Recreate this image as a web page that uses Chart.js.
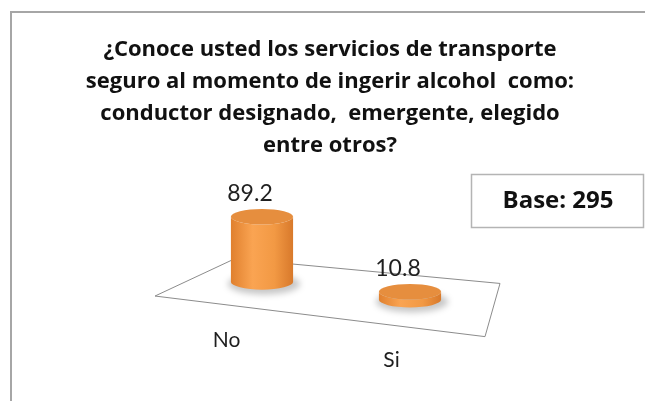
<!DOCTYPE html>
<html>
<head>
<meta charset="utf-8">
<script src="https://cdn.jsdelivr.net/npm/chart.js@4.4.1/dist/chart.umd.min.js"></script>
<style>
  html, body { margin: 0; padding: 0; background: #fff; }
  #chart { display: block; }
</style>
</head>
<body>
<canvas id="chart" width="645" height="401"></canvas>
<script>
// Survey answer: known safe-transport services (3D cylinder look)
const categories = ['No', 'Si'];
const values = [89.2, 10.8];
const titleLines = [
    '¿Conoce usted los servicios de transporte',
    'seguro al momento de ingerir alcohol  como:',
    'conductor designado,  emergente, elegido',
    'entre otros?'
];
const baseText = 'Base: 295';

const FONT = 'Lato, "Open Sans", sans-serif';
const BOLD_FONT = '"Open Sans", Lato, sans-serif';
const TILT = 0.12; // floor slope, px down per px right

function floorY(area, x) {
    return area.bottom + TILT * (x - area.left);
}

function drawCylinder(ctx, cx, topY, botY, rx, ry) {
    let grad = ctx.createLinearGradient(cx - rx, 0, cx + rx, 0);
    grad.addColorStop(0, '#e0802e');
    grad.addColorStop(0.35, '#faa452');
    grad.addColorStop(0.7, '#f29944');
    grad.addColorStop(1, '#d8792b');
    ctx.beginPath();
    ctx.moveTo(cx - rx, topY);
    ctx.lineTo(cx - rx, botY);
    ctx.ellipse(cx, botY, rx, ry, 0, Math.PI, 0, true);
    ctx.lineTo(cx + rx, topY);
    ctx.ellipse(cx, topY, rx, ry, 0, 0, Math.PI, false);
    ctx.closePath();
    ctx.fillStyle = grad;
    ctx.fill();

    ctx.beginPath();
    ctx.ellipse(cx, topY, rx, ry, 0, 0, Math.PI * 2);
    ctx.fillStyle = '#e68e3e';
    ctx.fill();
}

const cylinderPlugin = {
    id: 'cylinder3d',
    beforeDraw(chart) {
        const ctx = chart.ctx;
        ctx.save();
        ctx.fillStyle = '#fff';
        ctx.fillRect(0, 0, chart.width, chart.height);
        // outer frame (top and left edges only visible)
        ctx.strokeStyle = '#a6a6a6';
        ctx.lineWidth = 2;
        ctx.beginPath();
        ctx.moveTo(11, chart.height);
        ctx.lineTo(11, 12);
        ctx.lineTo(chart.width, 12);
        ctx.stroke();

        // base box
        ctx.strokeStyle = '#b4b4b4';
        ctx.lineWidth = 1.5;
        ctx.strokeRect(471.5, 174.5, 172, 53);
        ctx.fillStyle = '#111';
        ctx.font = 'bold 24px ' + BOLD_FONT;
        ctx.textAlign = 'center';
        ctx.textBaseline = 'middle';
        ctx.fillText(baseText, 558, 201);
        ctx.restore();
    },
    beforeDatasetsDraw(chart) {
        const ctx = chart.ctx;
        const a = chart.chartArea;
        const fl = { x: a.left - 33 }; fl.y = floorY(a, fl.x) + 27;
        const fr = { x: a.right + 1 }; fr.y = floorY(a, fr.x) + 28;
        const br = { x: a.right + 16 }; br.y = floorY(a, br.x) - 27;
        const bl = { x: a.left + 47 }; bl.y = floorY(a, bl.x) - 20;
        chart.$floor = { fl, fr };
        ctx.save();
        ctx.strokeStyle = '#8c8c8c';
        ctx.lineWidth = 1;
        ctx.beginPath();
        ctx.moveTo(fl.x, fl.y);
        ctx.lineTo(fr.x, fr.y);
        ctx.lineTo(br.x, br.y);
        ctx.lineTo(bl.x, bl.y);
        ctx.closePath();
        ctx.stroke();
        ctx.restore();
    },
    afterDatasetsDraw(chart) {
        const ctx = chart.ctx;
        const a = chart.chartArea;
        const meta = chart.getDatasetMeta(0);
        const labels = chart.data.labels;
        const data = chart.data.datasets[0].data;
        ctx.save();
        meta.data.forEach((bar, i) => {
            const shift = TILT * (bar.x - a.left);
            const rx = bar.width / 2;
            const ry = rx * 0.25;
            const topY = bar.y + shift;
            const botY = bar.base + shift;

            // soft shadow on the floor
            ctx.save();
            ctx.filter = 'blur(3px)';
            ctx.fillStyle = 'rgba(0,0,0,0.22)';
            ctx.beginPath();
            ctx.ellipse(bar.x + 2, botY + 2, rx + 5, ry + 3, 0, 0, Math.PI * 2);
            ctx.fill();
            ctx.restore();

            drawCylinder(ctx, bar.x, topY, botY, rx, ry);

            ctx.fillStyle = '#1f1f1f';
            ctx.font = '23px ' + FONT;
            ctx.textAlign = 'center';
            ctx.textBaseline = 'middle';
            ctx.fillText(data[i].toFixed(1), bar.x - 12, topY - ry - 15);
        });

        // category labels along the front edge of the floor
        const { fl, fr } = chart.$floor;
        labels.forEach((lab, i) => {
            const t = (i + 0.5) / labels.length;
            const x = fl.x + (fr.x - fl.x) * t;
            const y = fl.y + (fr.y - fl.y) * t;
            ctx.fillStyle = '#1f1f1f';
            ctx.font = '21px ' + FONT;
            ctx.textAlign = 'center';
            ctx.textBaseline = 'middle';
            ctx.fillText(lab, x - 11, y + 34);
        });
        ctx.restore();
    }
};

let ctx = document.getElementById('chart').getContext('2d');
let chart = new Chart(ctx, {
    type: 'bar',
    data: {
        labels: categories,
        datasets: [{
            data: values,
            backgroundColor: 'rgba(0,0,0,0)',
            barPercentage: 0.42,
            categoryPercentage: 1
        }]
    },
    options: {
        responsive: false,
        animation: false,
        devicePixelRatio: 1,
        layout: { padding: { left: 15, right: 0, top: 0, bottom: 128 } },
        scales: {
            x: { display: false },
            y: {
                min: 0,
                max: 100,
                ticks: { display: false },
                grid: { display: false },
                border: { display: false },
                afterFit: s => { s.width = 173; }
            },
            yRight: {
                position: 'right',
                min: 0,
                max: 100,
                ticks: { display: false },
                grid: { display: false },
                border: { display: false },
                afterFit: s => { s.width = 161; }
            }
        },
        plugins: {
            legend: { display: false },
            tooltip: { enabled: false },
            title: {
                display: true,
                text: titleLines,
                color: '#111',
                font: { family: BOLD_FONT, size: 22, weight: 'bold', lineHeight: 1.4545 },
                padding: { top: 34, bottom: 38 }
            }
        }
    },
    plugins: [cylinderPlugin]
});
</script>
</body>
</html>
